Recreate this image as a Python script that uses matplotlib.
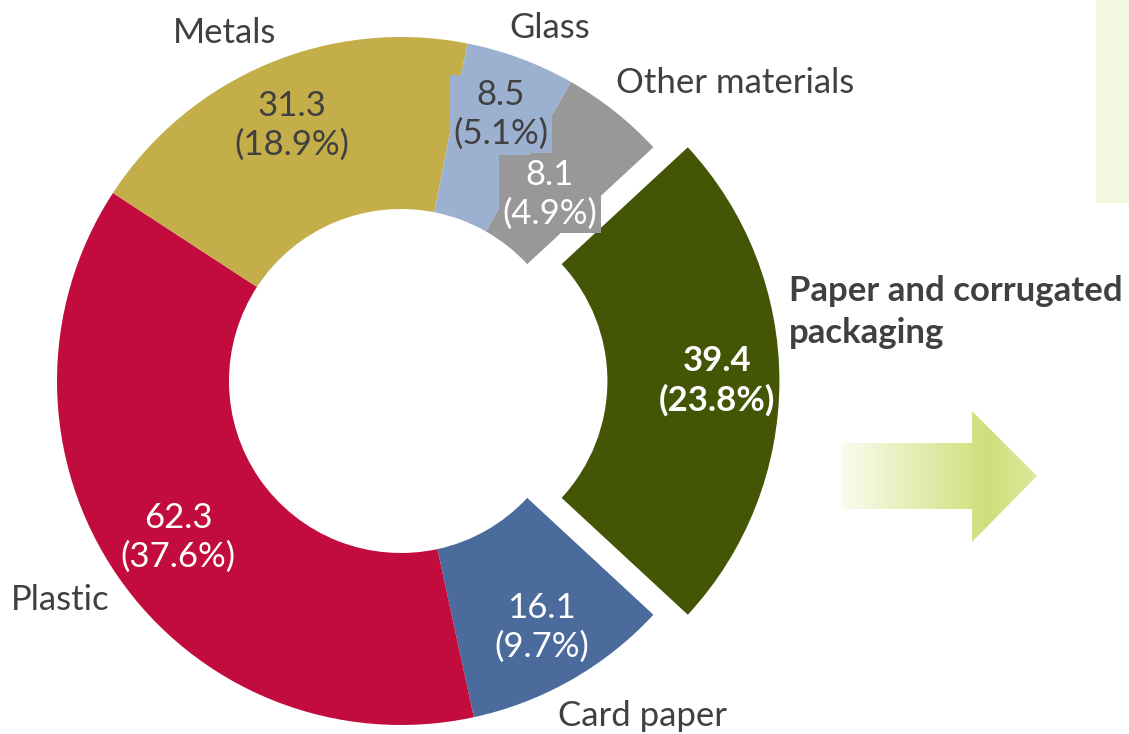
# Packaging materials donut chart
import numpy as np
import matplotlib
matplotlib.use('Agg')
import matplotlib.pyplot as plt
from matplotlib.patches import Polygon, Rectangle
from matplotlib.colors import LinearSegmentedColormap

plt.rcParams['font.family'] = ['Lato', 'DejaVu Sans']

# Data
materials = ['Paper and corrugated\npackaging', 'Card paper', 'Plastic', 'Metals', 'Glass', 'Other materials']
values = [39.4, 16.1, 62.3, 31.3, 8.5, 8.1]
shares = [23.8, 9.7, 37.6, 18.9, 5.1, 4.9]
colors = ['#445506', '#4a6b9b', '#c20c3d', '#c4ae4a', '#9cb1cf', '#989898']
explode = [0.1, 0, 0, 0, 0, 0]

W, H = 1129, 734
cx, cy, R = 401, 381, 344   # pie centre / radius in pixels

fig = plt.figure(figsize=(W / 100, H / 100), dpi=100)
ax = fig.add_axes([0, 0, 1, 1])

start = 180 * values[0] / sum(values)   # paper wedge centred on the right
ax.pie(values, colors=colors, explode=explode, startangle=start,
       counterclock=False, wedgeprops=dict(width=0.5, linewidth=0))
ax.axis('off')


def px(x, y):
    return x / W, 1 - y / H


dark = '#404040'
fs = 25
ls = 1.25

# category names
fig.text(*px(225, 33), 'Metals', ha='center', va='center', fontsize=fs, color=dark)
fig.text(*px(550, 28), 'Glass', ha='center', va='center', fontsize=fs, color=dark)
fig.text(*px(616, 83), 'Other materials', ha='left', va='center', fontsize=fs, color=dark)
fig.text(*px(60, 600), 'Plastic', ha='center', va='center', fontsize=fs, color=dark)
fig.text(*px(642, 716), 'Card paper', ha='center', va='center', fontsize=fs, color=dark)
fig.text(*px(789, 312), materials[0], ha='left', va='center', fontsize=fs,
         color=dark, fontweight='bold', linespacing=1.35)

# value labels
def lab(i):
    return f'{values[i]}\n({shares[i]}%)'

fig.text(*px(717, 381), lab(0), ha='center', va='center', fontsize=fs,
         color='white', fontweight='bold', linespacing=ls)
fig.text(*px(542, 627), lab(1), ha='center', va='center', fontsize=fs,
         color='white', linespacing=ls)
fig.text(*px(178, 537), lab(2), ha='center', va='center', fontsize=fs,
         color='white', linespacing=ls)
fig.text(*px(292, 125), lab(3), ha='center', va='center', fontsize=fs,
         color=dark, linespacing=ls)
fig.text(*px(501, 114), lab(4), ha='center', va='center', fontsize=fs,
         color=dark, linespacing=ls,
         bbox=dict(facecolor=colors[4], edgecolor='none', boxstyle='square,pad=0.1'))
fig.text(*px(550, 194), lab(5), ha='center', va='center', fontsize=fs,
         color='white', linespacing=ls,
         bbox=dict(facecolor=colors[5], edgecolor='none', boxstyle='square,pad=0.1'))

# decorations on the right
def dpt(x, y):
    return ((x - cx) / R, (cy - y) / R)

ax.add_patch(Rectangle(dpt(1096, 203), 33 / R, 203 / R, facecolor='#f2f7df',
                       edgecolor='none', clip_on=False))

arrow_px = [(841, 443), (972, 443), (972, 411), (1037, 476),
            (972, 542), (972, 509), (841, 509)]
arrow = Polygon([dpt(x, y) for x, y in arrow_px], closed=True,
                facecolor='none', edgecolor='none')
ax.add_patch(arrow)
cmap = LinearSegmentedColormap.from_list(
    'grad', [(0, '#fafcef'), (0.75, '#cde07b'), (1.0, '#dae99c')])
x0, y0 = dpt(841, 542)
x1, y1 = dpt(1037, 411)
grad = np.linspace(0, 1, 256).reshape(1, -1)
im = ax.imshow(grad, cmap=cmap, extent=[x0, x1, y0, y1], aspect='auto', zorder=1)
im.set_clip_path(arrow)

ax.set_xlim(-cx / R, (W - cx) / R)
ax.set_ylim(-(H - cy) / R, cy / R)

fig.savefig('out.png', dpi=100)
